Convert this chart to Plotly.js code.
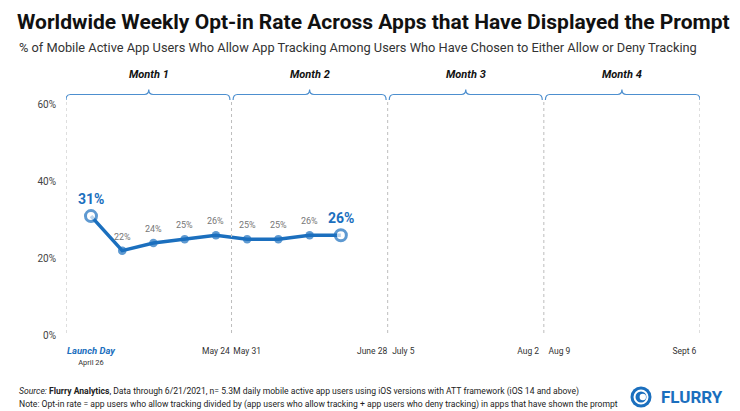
<!DOCTYPE html>
<html>
<head>
<meta charset="utf-8">
<script src="https://cdn.plot.ly/plotly-3.0.1.min.js"></script>
<style>html,body{margin:0;padding:0;background:#fff;}#chart{width:740px;height:411px;}</style>
</head>
<body>
<div id="chart"></div>
<script>
// ---- data ----
const weeks = [0, 1, 2, 3, 4, 5, 6, 7, 8];
const optInRates = [31, 22, 24, 25, 26, 25, 25, 26, 26];
const tickWeeks = [0, 4, 5, 9, 10, 14, 15, 19];
const tickDates = ['April 26', 'May 24', 'May 31', 'June 28', 'July 5', 'Aug 2', 'Aug 9', 'Sept 6'];
const monthNames = ['Month 1', 'Month 2', 'Month 3', 'Month 4'];
const monthBounds = [-0.8, 4.5, 9.5, 14.5, 19.5];
const yTicks = [0, 20, 40, 60];

// ---- styling ----
const BLUE = '#1b6fbe';
const FONT = 'Roboto, Arial, sans-serif';
const W = 740, H = 411;
const L = 66, R = 40, T = 98, B = 74;
const plotW = W - L - R, plotH = H - T - B;
const px = x => (x - L) / plotW;
const py = y => (H - B - y) / plotH;

const n = weeks.length;
const isEnd = weeks.map((w, i) => i === 0 || i === n - 1);

const trace = {
  x: weeks, y: optInRates, type: 'scatter', mode: 'lines+markers',
  line: {color: BLUE, width: 3.5},
  marker: {
    size: isEnd.map(e => e ? 11 : 8.5),
    color: isEnd.map(e => e ? '#ffffff' : BLUE),
    line: {color: BLUE, width: isEnd.map(e => e ? 3 : 0)}
  },
  hoverinfo: 'skip', cliponaxis: false, showlegend: false
};

const tickText = tickDates.map((d, i) => i === 0
  ? '<span style="color:' + BLUE + ';font-size:9.5px"><b><i>Launch Day</i></b></span><br><span style="font-size:7.5px">' + d + '</span>'
  : d);

const shapes = [];
const annotations = [];

// value labels
weeks.forEach((w, i) => {
  annotations.push({xref: 'x', yref: 'y', x: w, y: optInRates[i], yshift: isEnd[i] ? 17 : 14,
    text: isEnd[i] ? '<b>' + optInRates[i] + '%</b>' : optInRates[i] + '%', showarrow: false,
    xanchor: 'center', yanchor: 'middle',
    font: {family: FONT, size: isEnd[i] ? 14 : 9, color: isEnd[i] ? BLUE : '#777'}});
});

monthBounds.forEach(b => {
  shapes.push({type: 'line', xref: 'x', yref: 'paper', x0: b, x1: b, y0: py(333), y1: py(101),
    line: {color: '#bdbdbd', width: 1, dash: 'dot'}});
});
const yb = py(100), yh = py(94.5), yp = py(89.5), r = 0.14, gap = 0.05;
monthNames.forEach((m, i) => {
  const xl = monthBounds[i] + (i === 0 ? 0 : gap), xr = monthBounds[i + 1] - (i === 3 ? 0 : gap);
  const xc = (monthBounds[i] + monthBounds[i + 1]) / 2;
  const path = `M ${xl},${yb} Q ${xl},${yh} ${xl + r},${yh} L ${xc - r},${yh} Q ${xc},${yh} ${xc},${yp} ` +
               `Q ${xc},${yh} ${xc + r},${yh} L ${xr - r},${yh} Q ${xr},${yh} ${xr},${yb}`;
  shapes.push({type: 'path', xref: 'x', yref: 'paper', path: path, line: {color: '#4d8fcf', width: 1.2}});
  annotations.push({xref: 'x', yref: 'paper', x: xc, y: py(75), text: '<b><i>' + m + '</i></b>',
    showarrow: false, font: {family: FONT, size: 11, color: '#111'}, xanchor: 'center', yanchor: 'middle'});
});

// subtitle, footer, logo
annotations.push({xref: 'paper', yref: 'paper', x: px(17), y: py(47), xanchor: 'left', yanchor: 'middle', showarrow: false,
  text: '% of Mobile Active App Users Who Allow App Tracking Among Users Who Have Chosen to Either Allow or Deny Tracking',
  font: {family: FONT, size: 12.8, color: '#333'}});
annotations.push({xref: 'paper', yref: 'paper', x: px(17), y: py(391), xanchor: 'left', yanchor: 'middle', showarrow: false,
  text: '<i>Source:</i> <b>Flurry Analytics</b>, Data through 6/21/2021, n= 5.3M daily mobile active app users using iOS versions with ATT framework (iOS 14 and above)',
  font: {family: FONT, size: 8.6, color: '#222'}});
annotations.push({xref: 'paper', yref: 'paper', x: px(17), y: py(404), xanchor: 'left', yanchor: 'middle', showarrow: false,
  text: 'Note: Opt-in rate = app users who allow tracking divided by (app users who allow tracking + app users who deny tracking) in apps that have shown the prompt',
  font: {family: FONT, size: 8.6, color: '#222'}});
annotations.push({xref: 'paper', yref: 'paper', x: px(659), y: py(397), xanchor: 'left', yanchor: 'middle', showarrow: false,
  text: '<b>FLURRY</b>', font: {family: FONT, size: 17, color: BLUE}});

const lc = px(641), lcy = py(397);
[[10.5, BLUE, 0], [7.5, '#fff', 0], [5.5, BLUE, 0], [3.2, '#fff', 1.8]].forEach(([rad, col, off]) => {
  shapes.push({type: 'circle', xref: 'paper', yref: 'paper', xsizemode: 'pixel', ysizemode: 'pixel',
    xanchor: lc, yanchor: lcy, x0: -rad + off, x1: rad + off, y0: -rad, y1: rad,
    fillcolor: col, line: {width: 0}});
});

const layout = {
  width: W, height: H,
  margin: {l: L, r: R, t: T, b: B, pad: 0},
  paper_bgcolor: '#fff', plot_bgcolor: '#fff',
  title: {text: '<b>Worldwide Weekly Opt-in Rate Across Apps that Have Displayed the Prompt</b>',
    xref: 'container', yref: 'container', x: 17 / W, xanchor: 'left', y: 1 - 22 / H, yanchor: 'middle',
    font: {family: FONT, size: 21, color: '#111'}},
  xaxis: {range: [monthBounds[0], monthBounds[4]], tickmode: 'array', tickvals: tickWeeks, ticktext: tickText,
    showgrid: false, zeroline: false, showline: false, ticks: '', ticklabelstandoff: 7,
    tickfont: {family: FONT, size: 8.5, color: '#333'}, fixedrange: true},
  yaxis: {range: [-0.52, 61.8], tickmode: 'array', tickvals: yTicks, ticktext: yTicks.map(v => v + '%'),
    showgrid: false, zeroline: false, showline: false, ticks: '', ticklabelstandoff: 9,
    tickfont: {family: FONT, size: 10, color: '#444'}, fixedrange: true},
  shapes: shapes, annotations: annotations
};

Plotly.newPlot('chart', [trace], layout, {displayModeBar: false, staticPlot: true});
</script>
</body>
</html>
